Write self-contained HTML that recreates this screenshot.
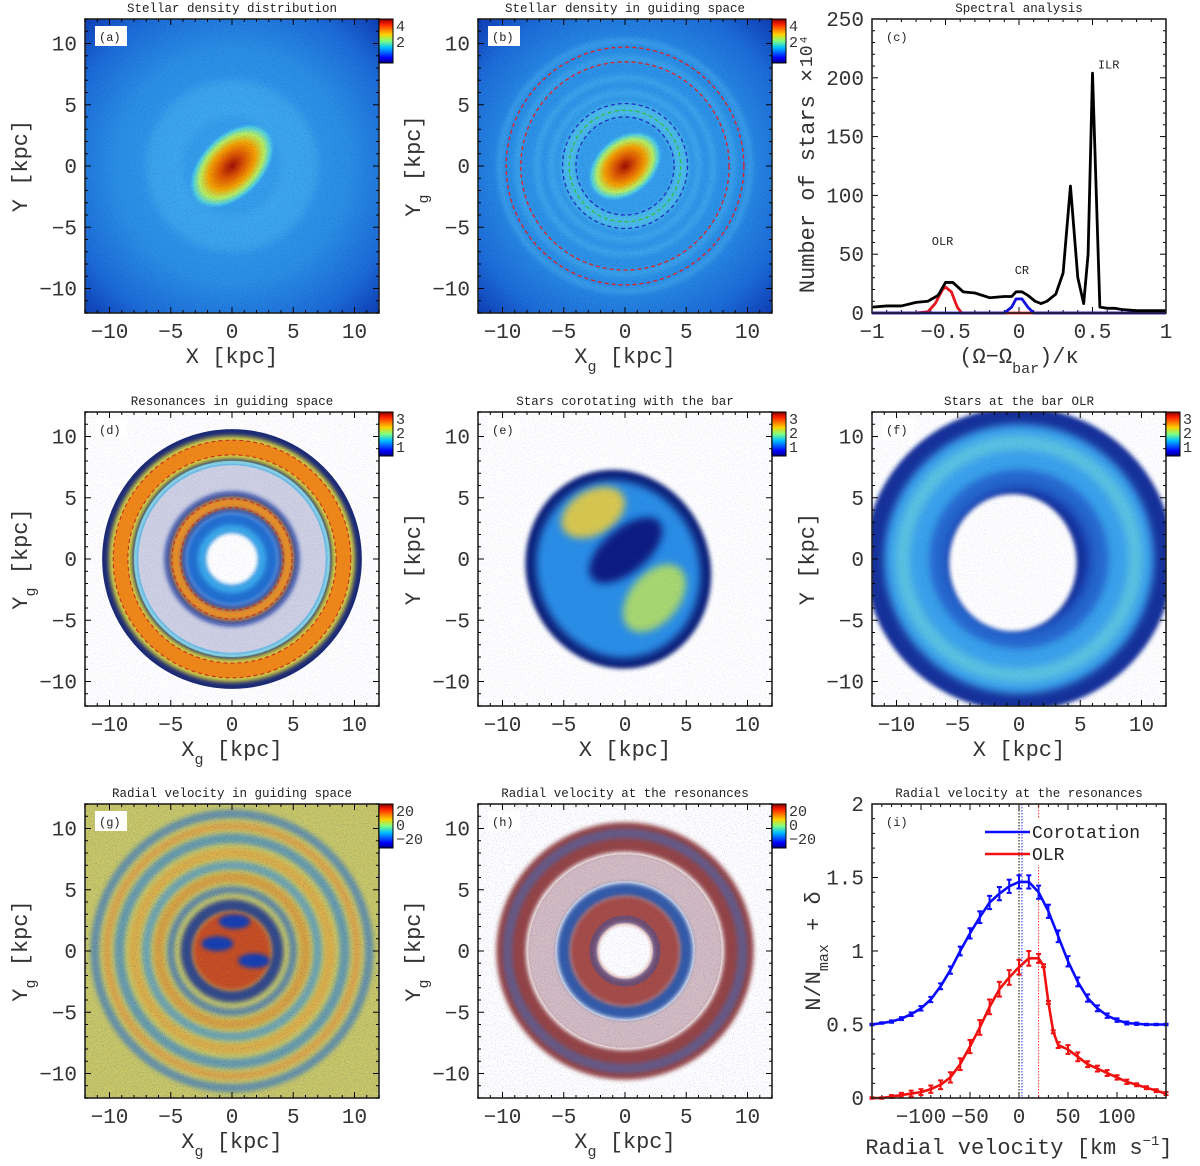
<!DOCTYPE html>
<html><head><meta charset="utf-8"><style>
html,body{margin:0;padding:0;background:#fff}
svg{display:block;font-family:"Liberation Mono",monospace}
</style></head><body>
<svg id="fig" width="1200" height="1166" viewBox="0 0 1200 1166" xmlns="http://www.w3.org/2000/svg">
<defs>
<linearGradient id="jet" x1="0" y1="1" x2="0" y2="0">
<stop offset="0" stop-color="#00007f"/><stop offset="0.12" stop-color="#0000ff"/><stop offset="0.35" stop-color="#00c0ff"/><stop offset="0.5" stop-color="#7fff7f"/><stop offset="0.65" stop-color="#ffd000"/><stop offset="0.88" stop-color="#ff2000"/><stop offset="1" stop-color="#7f0000"/>
</linearGradient>
<radialGradient id="bgA" cx="0.5" cy="0.5" r="0.72">
<stop offset="0" stop-color="#3aa6ee"/><stop offset="0.55" stop-color="#2a8fe4"/><stop offset="0.8" stop-color="#1c6cd6"/><stop offset="1" stop-color="#0d3ab0"/>
</radialGradient>
<radialGradient id="barG" cx="0.5" cy="0.5" r="0.5">
<stop offset="0" stop-color="#a01000"/><stop offset="0.3" stop-color="#e05a00"/><stop offset="0.55" stop-color="#f5a300"/><stop offset="0.75" stop-color="#b8f060"/><stop offset="0.9" stop-color="#50d0e0"/><stop offset="1" stop-color="#40b0f0" stop-opacity="0"/>
</radialGradient>
<filter id="bl4" x="-50%" y="-50%" width="200%" height="200%"><feGaussianBlur stdDeviation="4"/></filter>
<filter id="bl2" x="-50%" y="-50%" width="200%" height="200%"><feGaussianBlur stdDeviation="2"/></filter>
<filter id="noise" x="0" y="0" width="1" height="1"><feTurbulence type="fractalNoise" baseFrequency="0.9" numOctaves="1" seed="3"/><feColorMatrix type="matrix" values="0 0 0 0 0  0 0 0 0 0  0 0 0 0 0.3  0 0 0 1.2 -0.6"/></filter>
</defs>
</svg>
<script>
// ---------- chart data (panel c) ----------
const cBlackX=[-1,-0.9,-0.8,-0.7,-0.62,-0.55,-0.5,-0.45,-0.38,-0.3,-0.2,-0.1,-0.05,-0.02,0.02,0.06,0.11,0.15,0.19,0.25,0.3,0.35,0.4,0.44,0.47,0.5,0.55,0.6,0.65,0.7,0.8,0.9,1];
const cBlackY=[5,6,6,9,10,15,26,26,18,17,13,14,14,18,18,15,10,8,10,16,34,108,30,8,50,204,5,4,4,3,2,2,2];
const cRedX=[-1,-0.7,-0.62,-0.57,-0.52,-0.5,-0.46,-0.42,-0.39,1];
const cRedY=[0,0,1,8,20,22,18,5,0,0];
const cBlueX=[-1,-0.1,-0.05,-0.02,0.02,0.06,0.1,1];
const cBlueY=[0,0,5,12,12,5,0,0];
const cXTicks=[-1,-0.5,0,0.5,1];
const cYTicks=[0,50,100,150,200,250];
// ---------- chart data (panel i) ----------
const iVel=[-150,-140,-130,-120,-110,-100,-90,-80,-70,-60,-50,-40,-30,-20,-10,0,10,20,30,40,50,60,70,80,90,100,110,120,130,140,150];
const iCorot=[0.50,0.51,0.52,0.54,0.57,0.61,0.67,0.76,0.87,1.00,1.12,1.23,1.33,1.39,1.44,1.47,1.47,1.40,1.27,1.10,0.93,0.79,0.68,0.61,0.56,0.53,0.51,0.505,0.50,0.50,0.50];
const iCorotErr=[0.005,0.005,0.008,0.01,0.012,0.015,0.018,0.02,0.025,0.03,0.035,0.04,0.045,0.045,0.045,0.045,0.045,0.045,0.045,0.04,0.035,0.03,0.025,0.02,0.015,0.012,0.01,0.008,0.005,0.005,0.005];
const iOlrVel=[-150,-140,-130,-120,-110,-100,-90,-80,-70,-60,-50,-40,-30,-20,-10,0,10,20,25,30,35,40,50,60,70,80,90,100,110,120,130,140,150];
const iOlr=[0,0,0.01,0.02,0.03,0.04,0.06,0.09,0.14,0.23,0.35,0.48,0.62,0.74,0.82,0.89,0.95,0.95,0.90,0.65,0.45,0.36,0.33,0.28,0.23,0.20,0.17,0.14,0.11,0.09,0.07,0.05,0.03];
const iOlrErr=[0.005,0.005,0.01,0.015,0.02,0.02,0.025,0.03,0.035,0.04,0.045,0.05,0.05,0.05,0.05,0.05,0.05,0.03,0.01,0.01,0.01,0.02,0.03,0.03,0.02,0.02,0.02,0.015,0.015,0.01,0.01,0.01,0.01];
const iXTicks=[-100,-50,0,50,100];
const iYTicks=[0,0.5,1,1.5,2];
const iYLabels=["0","0.5","1","1.5","2"];
const iPeaks=[0,3,20];

const NS="http://www.w3.org/2000/svg";
const svg=document.getElementById('fig');
function el(tag,attrs,parent,text){const e=document.createElementNS(NS,tag);for(const k in attrs)e.setAttribute(k,attrs[k]);if(text!==undefined)e.textContent=text;(parent||svg).appendChild(e);return e;}

const W=294;
const panels={a:[85,19],b:[478,19],c:[872,19],d:[85,412],e:[478,412],f:[872,412],g:[85,804],h:[478,804],i:[872,804]};
const TF=21;

function heatPanel(key,title,xlab,ylab,sub,cbLabels,draw){
  const [x0,y0]=panels[key];
  const g=el('g',{},svg);
  
  
  const cp=el('clipPath',{id:'cp'+key},g);el('rect',{x:x0,y:y0,width:W,height:W},cp);
  const body=el('g',{'clip-path':'url(#cp'+key+')'},g);
  
  
  const s=W/24;
  const cx=x0+W/2, cy=y0+W/2;
  draw(body,cx,cy,s,x0,y0);
  frameTicks(g,x0,y0);
  const tk=el('g',{stroke:'#000','stroke-width':1},g);
  for(let v=-12;v<=12;v++){
    const len=(v%5===0)?6:3;const p=x0+(v+12)*s;const q=y0+(12-v)*s;
    el('line',{x1:p,y1:y0+W,x2:p,y2:y0+W-len},tk);el('line',{x1:p,y1:y0,x2:p,y2:y0+len},tk);
    el('line',{x1:x0,y1:q,x2:x0+len,y2:q},tk);el('line',{x1:x0+W,y1:q,x2:x0+W-len,y2:q},tk);
  }
  [-10,-5,0,5,10].forEach(v=>{
    const t=el('text',{x:x0+(v+12)*s,y:y0+W+25,'font-size':TF,'text-anchor':'middle',fill:'#333'},g,String(v).replace('-','\u2212'));
    
    const u=el('text',{x:x0-8,y:y0+(12-v)*s+7,'font-size':TF,'text-anchor':'end',fill:'#333'},g,String(v).replace('-','\u2212'));
    
  });
  const tt=el('text',{x:x0+W/2,y:y0-7,'font-size':12.5,'text-anchor':'middle',fill:'#222'},g,title);
  
  const xl=el('text',{x:x0+W/2,y:y0+W+50,'font-size':22,'text-anchor':'middle',fill:'#333'},g);
  
  if(sub){el('tspan',{},xl,xlab);el('tspan',{dy:8,'font-size':15},xl,'g');el('tspan',{dy:-8},xl,' [kpc]');}
  else xl.textContent=xlab+' [kpc]';
  const yl=el('text',{transform:`translate(${x0-58},${y0+W/2}) rotate(-90)`,'font-size':22,'text-anchor':'middle',fill:'#333'},g);
  
  if(sub){el('tspan',{},yl,ylab);el('tspan',{dy:8,'font-size':15},yl,'g');el('tspan',{dy:-8},yl,' [kpc]');}
  else yl.textContent=ylab+' [kpc]';
  panelLabel(g,x0,y0,'('+key+')');
  const cb=el('rect',{x:x0+W,y:y0,width:14,height:44,fill:'url(#jet)',stroke:'#000','stroke-width':1},g);
  
  cbLabels.forEach((l,i)=>{el('text',{x:x0+W+17,y:y0+12+i*(cbLabels.length===2?16:14),'font-size':15,fill:'#333'},g,l);});
}
function frameTicks(g,x0,y0){
  const f=el('rect',{x:x0,y:y0,width:W,height:W,fill:'none',stroke:'#222','stroke-width':1.6},g);
  
}
function panelLabel(g,x0,y0,t){
  el('rect',{x:x0+10,y:y0+7,width:32,height:20,fill:'#fff'},g);
  const l=el('text',{x:x0+14,y:y0+22,'font-size':12,fill:'#222'},g,t);
  
}
function circ(p,cx,cy,r,attrs){return el('circle',Object.assign({cx,cy,r,fill:'none'},attrs),p);}
function ann(p,cx,cy,r,w,color,op,filt){const a={stroke:color,'stroke-width':w,'stroke-opacity':op===undefined?1:op};if(filt)a.filter=filt;return circ(p,cx,cy,r,a);}
function noise(p,x0,y0,op){el('rect',{x:x0,y:y0,width:W,height:W,filter:'url(#noise)',opacity:op},p);}

// (a)
heatPanel('a','Stellar density distribution','X','Y',false,['4','2'],(p,cx,cy,s,x0,y0)=>{
  el('rect',{x:x0,y:y0,width:W,height:W,fill:'url(#bgA)'},p);
  ann(p,cx,cy,5.5*s,3*s,'#48b4f0',0.5,'url(#bl4)');
  el('ellipse',{cx,cy,rx:4.2*s,ry:2.6*s,fill:'url(#barG)',transform:`rotate(-45 ${cx} ${cy})`},p);
  noise(p,x0,y0,0.5);
});
// (b)
heatPanel('b','Stellar density in guiding space','X','Y',true,['4','2'],(p,cx,cy,s,x0,y0)=>{
  el('rect',{x:x0,y:y0,width:W,height:W,fill:'url(#bgA)'},p);
  [6,7.2,8.8,10.2].forEach(r=>ann(p,cx,cy,r*s,0.5*s,'#5cc4f4',0.35,'url(#bl2)'));
  ann(p,cx,cy,4.6*s,1.2*s,'#5cd0e8',0.6,'url(#bl2)');
  el('ellipse',{cx,cy,rx:3.4*s,ry:2.4*s,fill:'url(#barG)',transform:`rotate(-40 ${cx} ${cy})`},p);
  noise(p,x0,y0,0.5);
  const d={fill:'none','stroke-width':1.3,'stroke-dasharray':'4 3'};
  [9.7,8.5].forEach(r=>circ(p,cx,cy,r*s,Object.assign({stroke:'#e02020'},d)));
  [5.1,4.0].forEach(r=>circ(p,cx,cy,r*s,Object.assign({stroke:'#2030c0'},d)));
  circ(p,cx,cy,4.55*s,Object.assign({stroke:'#30c040'},d));
  const e=el('text',{transform:`translate(${x0+W+40},${y0+48}) rotate(-90)`,'font-size':18,fill:'#333'},svg,'10\u2074');
  
});
// (d)
heatPanel('d','Resonances in guiding space','X','Y',true,['3','2','1'],(p,cx,cy,s,x0,y0)=>{
  el('rect',{x:x0,y:y0,width:W,height:W,fill:'#fff'},p);
  ann(p,cx,cy,9.3*s,2.6*s,'#10206e',0.95);
  ann(p,cx,cy,6.6*s,2.4*s,'#202a80',0.22);
  ann(p,cx,cy,7.85*s,0.4*s,'#30b0e8',0.6);
  ann(p,cx,cy,9.1*s,1.9*s,'#d8d040',1,'url(#bl2)');
  ann(p,cx,cy,9.1*s,1.2*s,'#f08818',1);
  ann(p,cx,cy,4.6*s,1.8*s,'#1838a0',0.9,'url(#bl2)');
  ann(p,cx,cy,4.6*s,0.9*s,'#e89028',1,'url(#bl2)');
  ann(p,cx,cy,3.0*s,1.6*s,'#2070d0',1,'url(#bl2)');
  ann(p,cx,cy,2.5*s,0.6*s,'#40b8f0',0.8,'url(#bl2)');
  noise(p,x0,y0,0.3);
  const d={fill:'none','stroke-width':1.1,'stroke-dasharray':'4 3',stroke:'#c03020'};
  [9.7,8.5,4.9,4.2].forEach(r=>circ(p,cx,cy,r*s,d));
});
// (e)
heatPanel('e','Stars corotating with the bar','X','Y',false,['3','2','1'],(p,cx,cy,s,x0,y0)=>{
  el('rect',{x:x0,y:y0,width:W,height:W,fill:'#fff'},p);
  el('ellipse',{cx:cx-0.8*s,cy:cy+0.6*s,rx:7.5*s,ry:8.2*s,fill:'#10207a',filter:'url(#bl2)',transform:`rotate(-20 ${cx} ${cy})`},p);
  el('ellipse',{cx:cx-0.8*s,cy:cy+0.6*s,rx:6.6*s,ry:7.3*s,fill:'#2a8ee6',filter:'url(#bl4)',transform:`rotate(-20 ${cx} ${cy})`},p);
  el('ellipse',{cx:cx-2.6*s,cy:cy-3.8*s,rx:2.8*s,ry:1.8*s,fill:'#d8c850',filter:'url(#bl4)',transform:`rotate(-30 ${cx-2.6*s} ${cy-3.8*s})`},p);
  el('ellipse',{cx:cx+2.4*s,cy:cy+3.2*s,rx:3.2*s,ry:2.0*s,fill:'#a8d870',filter:'url(#bl4)',transform:`rotate(-50 ${cx+2.4*s} ${cy+3.2*s})`},p);
  el('ellipse',{cx:cx+0.5*s,cy:cy-0.5*s,rx:3.6*s,ry:1.8*s,fill:'#0c1e80',filter:'url(#bl4)',transform:`rotate(-40 ${cx} ${cy})`},p);
  noise(p,x0,y0,0.3);
});
// (f)
heatPanel('f','Stars at the bar OLR','X','Y',false,['3','2','1'],(p,cx,cy,s,x0,y0)=>{
  el('rect',{x:x0,y:y0,width:W,height:W,fill:'#fff'},p);
  el('ellipse',{cx,cy,rx:12.6*s,ry:12.4*s,fill:'#18309a',filter:'url(#bl2)'},p);
  ann(p,cx,cy,8.5*s,5*s,'#3aa2ec',1,'url(#bl4)');
  ann(p,cx,cy,9.5*s,1.2*s,'#70d8d8',0.6,'url(#bl4)');
  ann(p,cx,cy,6.4*s,1.8*s,'#2050c0',0.7,'url(#bl4)');
  el('ellipse',{cx:cx-0.5*s,cy:cy+0.3*s,rx:5.2*s,ry:5.6*s,fill:'#fff',filter:'url(#bl2)'},p);
  noise(p,x0,y0,0.3);
});
// (g)
heatPanel('g','Radial velocity in guiding space','X','Y',true,['20','0','\u221220'],(p,cx,cy,s,x0,y0)=>{
  el('rect',{x:x0,y:y0,width:W,height:W,fill:'#c8c868'},p);
  [[11.2,0.7,'#2a70d0'],[10.2,0.6,'#e89030'],[9.2,0.8,'#2a80d8'],[8,0.8,'#e8a030'],[7,0.7,'#3090e0'],[6,0.8,'#e08828'],[5,0.6,'#2060c8']].forEach(r=>ann(p,cx,cy,r[0]*s,r[1]*s,r[2],0.6,'url(#bl2)'));
  ann(p,cx,cy,3.7*s,1*s,'#102a90',0.8,'url(#bl2)');
  el('circle',{cx,cy,r:3.2*s,fill:'#c85020',filter:'url(#bl2)'},p);
  [[-0.6,0.3],[0.9,-0.4],[0.1,1.2]].forEach(v=>el('ellipse',{cx:cx+v[0]*2*s,cy:cy-v[1]*2*s,rx:1.3*s,ry:0.6*s,fill:'#1840b0',filter:'url(#bl2)'},p));
  noise(p,x0,y0,0.6);
});
// (h)
heatPanel('h','Radial velocity at the resonances','X','Y',true,['20','0','\u221220'],(p,cx,cy,s,x0,y0)=>{
  el('rect',{x:x0,y:y0,width:W,height:W,fill:'#fff'},p);
  ann(p,cx,cy,9.3*s,2.4*s,'#8a3030',0.9,'url(#bl2)');
  ann(p,cx,cy,9.6*s,0.8*s,'#3a70c8',0.5,'url(#bl2)');
  ann(p,cx,cy,6.8*s,2.2*s,'#804050',0.35);
  ann(p,cx,cy,5.0*s,1.1*s,'#204aa0',0.9,'url(#bl2)');
  ann(p,cx,cy,3.4*s,2.2*s,'#902018',0.8,'url(#bl2)');
  ann(p,cx,cy,2.6*s,0.6*s,'#2050b0',0.4);
  noise(p,x0,y0,0.45);
});

// ---------- line chart (c) ----------
(function(){
  const [x0,y0]=panels.c;
  const g=el('g',{},svg);
  
  
  const X=v=>x0+(v+1)/2*W, Y=v=>y0+W-v/250*W;
  const tk=el('g',{stroke:'#000','stroke-width':1},g);
  for(let i=0;i<=20;i++){const v=-1+i*0.1;const len=(i%5===0)?6:3;el('line',{x1:X(v),y1:y0+W,x2:X(v),y2:y0+W-len},tk);el('line',{x1:X(v),y1:y0,x2:X(v),y2:y0+len},tk);}
  for(let v=0;v<=250;v+=10){const len=(v%50===0)?6:3;el('line',{x1:x0,y1:Y(v),x2:x0+len,y2:Y(v)},tk);el('line',{x1:x0+W,y1:Y(v),x2:x0+W-len,y2:Y(v)},tk);}
  cXTicks.forEach(v=>{const t=el('text',{x:X(v),y:y0+W+25,'font-size':TF,'text-anchor':'middle',fill:'#333'},g,String(v).replace('-','\u2212'));});
  cYTicks.forEach(v=>{const t=el('text',{x:x0-8,y:Y(v)+7,'font-size':TF,'text-anchor':'end',fill:'#333'},g,String(v));});
  const line=(xs,ys,c,n)=>{const l=el('polyline',{points:xs.map((x,i)=>X(x)+','+Y(ys[i])).join(' '),fill:'none',stroke:c,'stroke-width':2.8,'stroke-linejoin':'round'},g);};
  line(cRedX,cRedY,'#e8141c','olr-curve');
  line(cBlueX,cBlueY,'#1010e0','cr-curve');
  line(cBlackX,cBlackY,'#000','total-spectrum');
  frameTicks(g,x0,y0);
  [['OLR',-0.52,58],['CR',0.02,33],['ILR',0.61,208]].forEach(a=>{const t=el('text',{x:X(a[1]),y:Y(a[2]),'font-size':12,fill:'#222','text-anchor':'middle'},g,a[0]);});
  el('text',{x:x0+W/2,y:y0-7,'font-size':12.5,'text-anchor':'middle',fill:'#222'},g,'Spectral analysis');
  panelLabel(g,x0,y0,'(c)');
  const xl=el('text',{x:x0+W/2,y:y0+W+50,'font-size':22,'text-anchor':'middle',fill:'#333'},g);
  
  el('tspan',{},xl,'(\u03A9\u2212\u03A9');el('tspan',{dy:10,'font-size':15},xl,'bar');el('tspan',{dy:-10},xl,')/\u03BA');
  const yl=el('text',{transform:`translate(${x0-58},${y0+W/2+15}) rotate(-90)`,'font-size':22,'text-anchor':'middle',fill:'#333'},g,'Number of stars \u00D7');
  
})();

// ---------- line chart (i) ----------
(function(){
  const [x0,y0]=panels.i;
  const g=el('g',{},svg);
  
  
  const X=v=>x0+(v+150)/300*W, Y=v=>y0+W-v/2*W;
  const tk=el('g',{stroke:'#000','stroke-width':1},g);
  for(let v=-150;v<=150;v+=10){const len=(v%50===0)?6:3;el('line',{x1:X(v),y1:y0+W,x2:X(v),y2:y0+W-len},tk);el('line',{x1:X(v),y1:y0,x2:X(v),y2:y0+len},tk);}
  for(let i=0;i<=20;i++){const v=i*0.1;const len=(i%5===0)?6:3;el('line',{x1:x0,y1:Y(v),x2:x0+len,y2:Y(v)},tk);el('line',{x1:x0+W,y1:Y(v),x2:x0+W-len,y2:Y(v)},tk);}
  iXTicks.forEach(v=>{const t=el('text',{x:X(v),y:y0+W+25,'font-size':TF,'text-anchor':'middle',fill:'#333'},g,String(v).replace('-','\u2212'));});
  iYTicks.forEach((v,k)=>{const t=el('text',{x:x0-8,y:Y(v)+7,'font-size':TF,'text-anchor':'end',fill:'#333'},g,iYLabels[k]);});
  const pc=['#000','#3030ff','#ff3030'];
  iPeaks.forEach((v,k)=>{const l=el('line',{x1:X(v),y1:y0,x2:X(v),y2:y0+W,stroke:pc[k],'stroke-width':1,'stroke-dasharray':'1.5 1.5'},g);});
  const series=(xs,ys,es,c,n)=>{
    const l=el('polyline',{points:xs.map((x,i)=>X(x)+','+Y(ys[i])).join(' '),fill:'none',stroke:c,'stroke-width':2.6},g);
    
    const eb=el('g',{stroke:c,'stroke-width':2},g);
    
    xs.forEach((x,i)=>{const a=Y(ys[i]+es[i]),b=Y(ys[i]-es[i]);el('line',{x1:X(x),y1:a,x2:X(x),y2:b},eb);el('line',{x1:X(x)-2.5,y1:a,x2:X(x)+2.5,y2:a},eb);el('line',{x1:X(x)-2.5,y1:b,x2:X(x)+2.5,y2:b},eb);});
  };
  series(iVel,iCorot,iCorotErr,'#0a0aff','corotation-curve');
  series(iOlrVel,iOlr,iOlrErr,'#f01010','olr-curve');
  frameTicks(g,x0,y0);
  const lg=el('g',{},g);
  el('rect',{x:x0+158,y:y0+15,width:120,height:46,fill:'#fff'},lg);
  el('line',{x1:x0+113,y1:y0+28,x2:x0+158,y2:y0+28,stroke:'#0a0aff','stroke-width':2.6},lg);
  el('text',{x:x0+160,y:y0+34,'font-size':18,fill:'#222'},lg,'Corotation');
  el('line',{x1:x0+113,y1:y0+50,x2:x0+158,y2:y0+50,stroke:'#f01010','stroke-width':2.6},lg);
  el('text',{x:x0+160,y:y0+56,'font-size':18,fill:'#222'},lg,'OLR');
  el('text',{x:x0+W/2,y:y0-7,'font-size':12.5,'text-anchor':'middle',fill:'#222'},g,'Radial velocity at the resonances');
  panelLabel(g,x0,y0,'(i)');
  const xl=el('text',{x:x0+W/2,y:y0+W+56,'font-size':22,'text-anchor':'middle',fill:'#333'},g);
  
  el('tspan',{},xl,'Radial velocity [km s');el('tspan',{dy:-9,'font-size':14},xl,'\u22121');el('tspan',{dy:9},xl,']');
  const yl=el('text',{transform:`translate(${x0-52},${y0+W/2}) rotate(-90)`,'font-size':22,'text-anchor':'middle',fill:'#333'},g);
  
  el('tspan',{},yl,'N/N');el('tspan',{dy:8,'font-size':15},yl,'max');el('tspan',{dy:-8},yl,' + \u03B4');
})();
</script>
</body></html>
